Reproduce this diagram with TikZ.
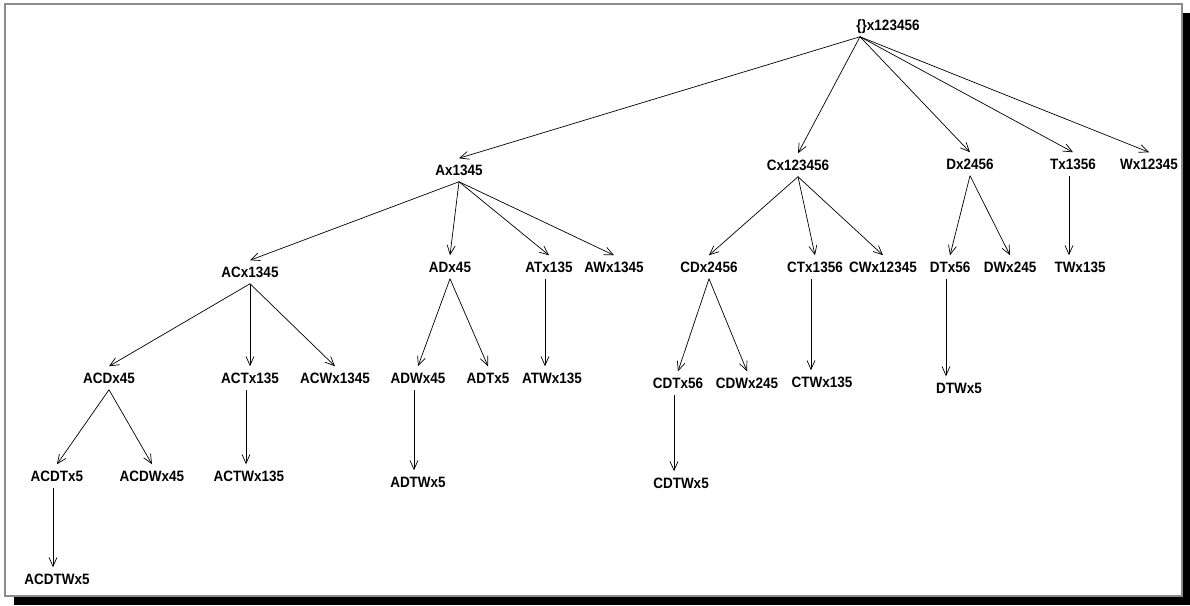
\documentclass[tikz,border=0pt]{standalone}
\usepackage{fontspec}
\setmainfont{Liberation Sans}
\newfontfamily\lblfont[FakeStretch=0.9]{Liberation Sans}
\usetikzlibrary{arrows.meta}
\tikzset{
  lbl/.style={font=\lblfont\fontsize{15}{18}\selectfont\bfseries, text height=10.5pt, text depth=0pt, inner sep=3pt, outer sep=3.5pt},
  arr/.style={-{Straight Barb[length=9pt,width=8pt]}, line width=0.7pt}
}
\begin{document}
\begin{tikzpicture}[x=1pt,y=-1pt]
\useasboundingbox (0,0) rectangle (1190,605);
% frame with shadow
\fill[black] (14,13) rectangle (1190,605);
\filldraw[fill=white,draw=gray!110!black,line width=1.5pt] (5,4) rectangle (1182,596);
% level 0 and 1
\node[lbl] (root) at (888,25) {\{\}x123456};
\node[lbl] (A) at (459,170) {Ax1345};
\node[lbl] (C) at (798,165) {Cx123456};
\node[lbl] (D) at (970,164) {Dx2456};
\node[lbl] (T) at (1073,164) {Tx1356};
\node[lbl] (W) at (1149,164) {Wx12345};
% level 2
\node[lbl] (AC) at (250,272) {ACx1345};
\node[lbl] (AD) at (450,267) {ADx45};
\node[lbl] (AT) at (549,267) {ATx135};
\node[lbl] (AW) at (614,267) {AWx1345};
\node[lbl] (CD) at (709,267) {CDx2456};
\node[lbl] (CT) at (815,267) {CTx1356};
\node[lbl] (CW) at (883,267) {CWx12345};
\node[lbl] (DT) at (950,267) {DTx56};
\node[lbl] (DW) at (1010,267) {DWx245};
\node[lbl] (TW) at (1080,267) {TWx135};
% level 3
\node[lbl] (ACD) at (109,378) {ACDx45};
\node[lbl] (ACT) at (250,378) {ACTx135};
\node[lbl] (ACW) at (335,378) {ACWx1345};
\node[lbl] (ADW) at (418,378) {ADWx45};
\node[lbl] (ADT) at (488,378) {ADTx5};
\node[lbl] (ATW) at (552,378) {ATWx135};
\node[lbl] (CDT) at (678,383) {CDTx56};
\node[lbl] (CDW) at (747,383) {CDWx245};
\node[lbl] (CTW) at (822,382) {CTWx135};
\node[lbl] (DTW) at (959,388) {DTWx5};
% level 4 and 5
\node[lbl] (ACDT) at (57,476) {ACDTx5};
\node[lbl] (ACDW) at (152,476) {ACDWx45};
\node[lbl] (ACTW) at (249,476) {ACTWx135};
\node[lbl] (ADTW) at (418,482) {ADTWx5};
\node[lbl] (CDTW) at (681,483) {CDTWx5};
\node[lbl] (ACDTW) at (57,579) {ACDTWx5};
% arrows
\coordinate (rootfoot) at ([xshift=-28pt]root.south);
\foreach \t in {A,C,D,T,W} \draw[arr] (rootfoot) -- (\t.north);
\foreach \t in {AC,AD,AT,AW} \draw[arr] (A.south) -- (\t.north);
\foreach \t in {CD,CT,CW} \draw[arr] (C.south) -- (\t.north);
\foreach \t in {DT,DW} \draw[arr] (D.south) -- (\t.north);
\foreach \t in {ACD,ACT,ACW} \draw[arr] (AC.south) -- (\t.north);
\foreach \t in {ADW,ADT} \draw[arr] (AD.south) -- (\t.north);
\foreach \t in {CDT,CDW} \draw[arr] (CD.south) -- (\t.north);
\foreach \t in {ACDT,ACDW} \draw[arr] (ACD.south) -- (\t.north);
% single children, straight down
\foreach \p/\t in {T/TW,AT/ATW,CT/CTW,DT/DTW,ACT/ACTW,ADW/ADTW,CDT/CDTW,ACDT/ACDTW}
  \draw[arr] ([xshift=-4pt]\p.south) -- ([xshift=-4pt]\p.south |- \t.north);
\end{tikzpicture}
\end{document}
